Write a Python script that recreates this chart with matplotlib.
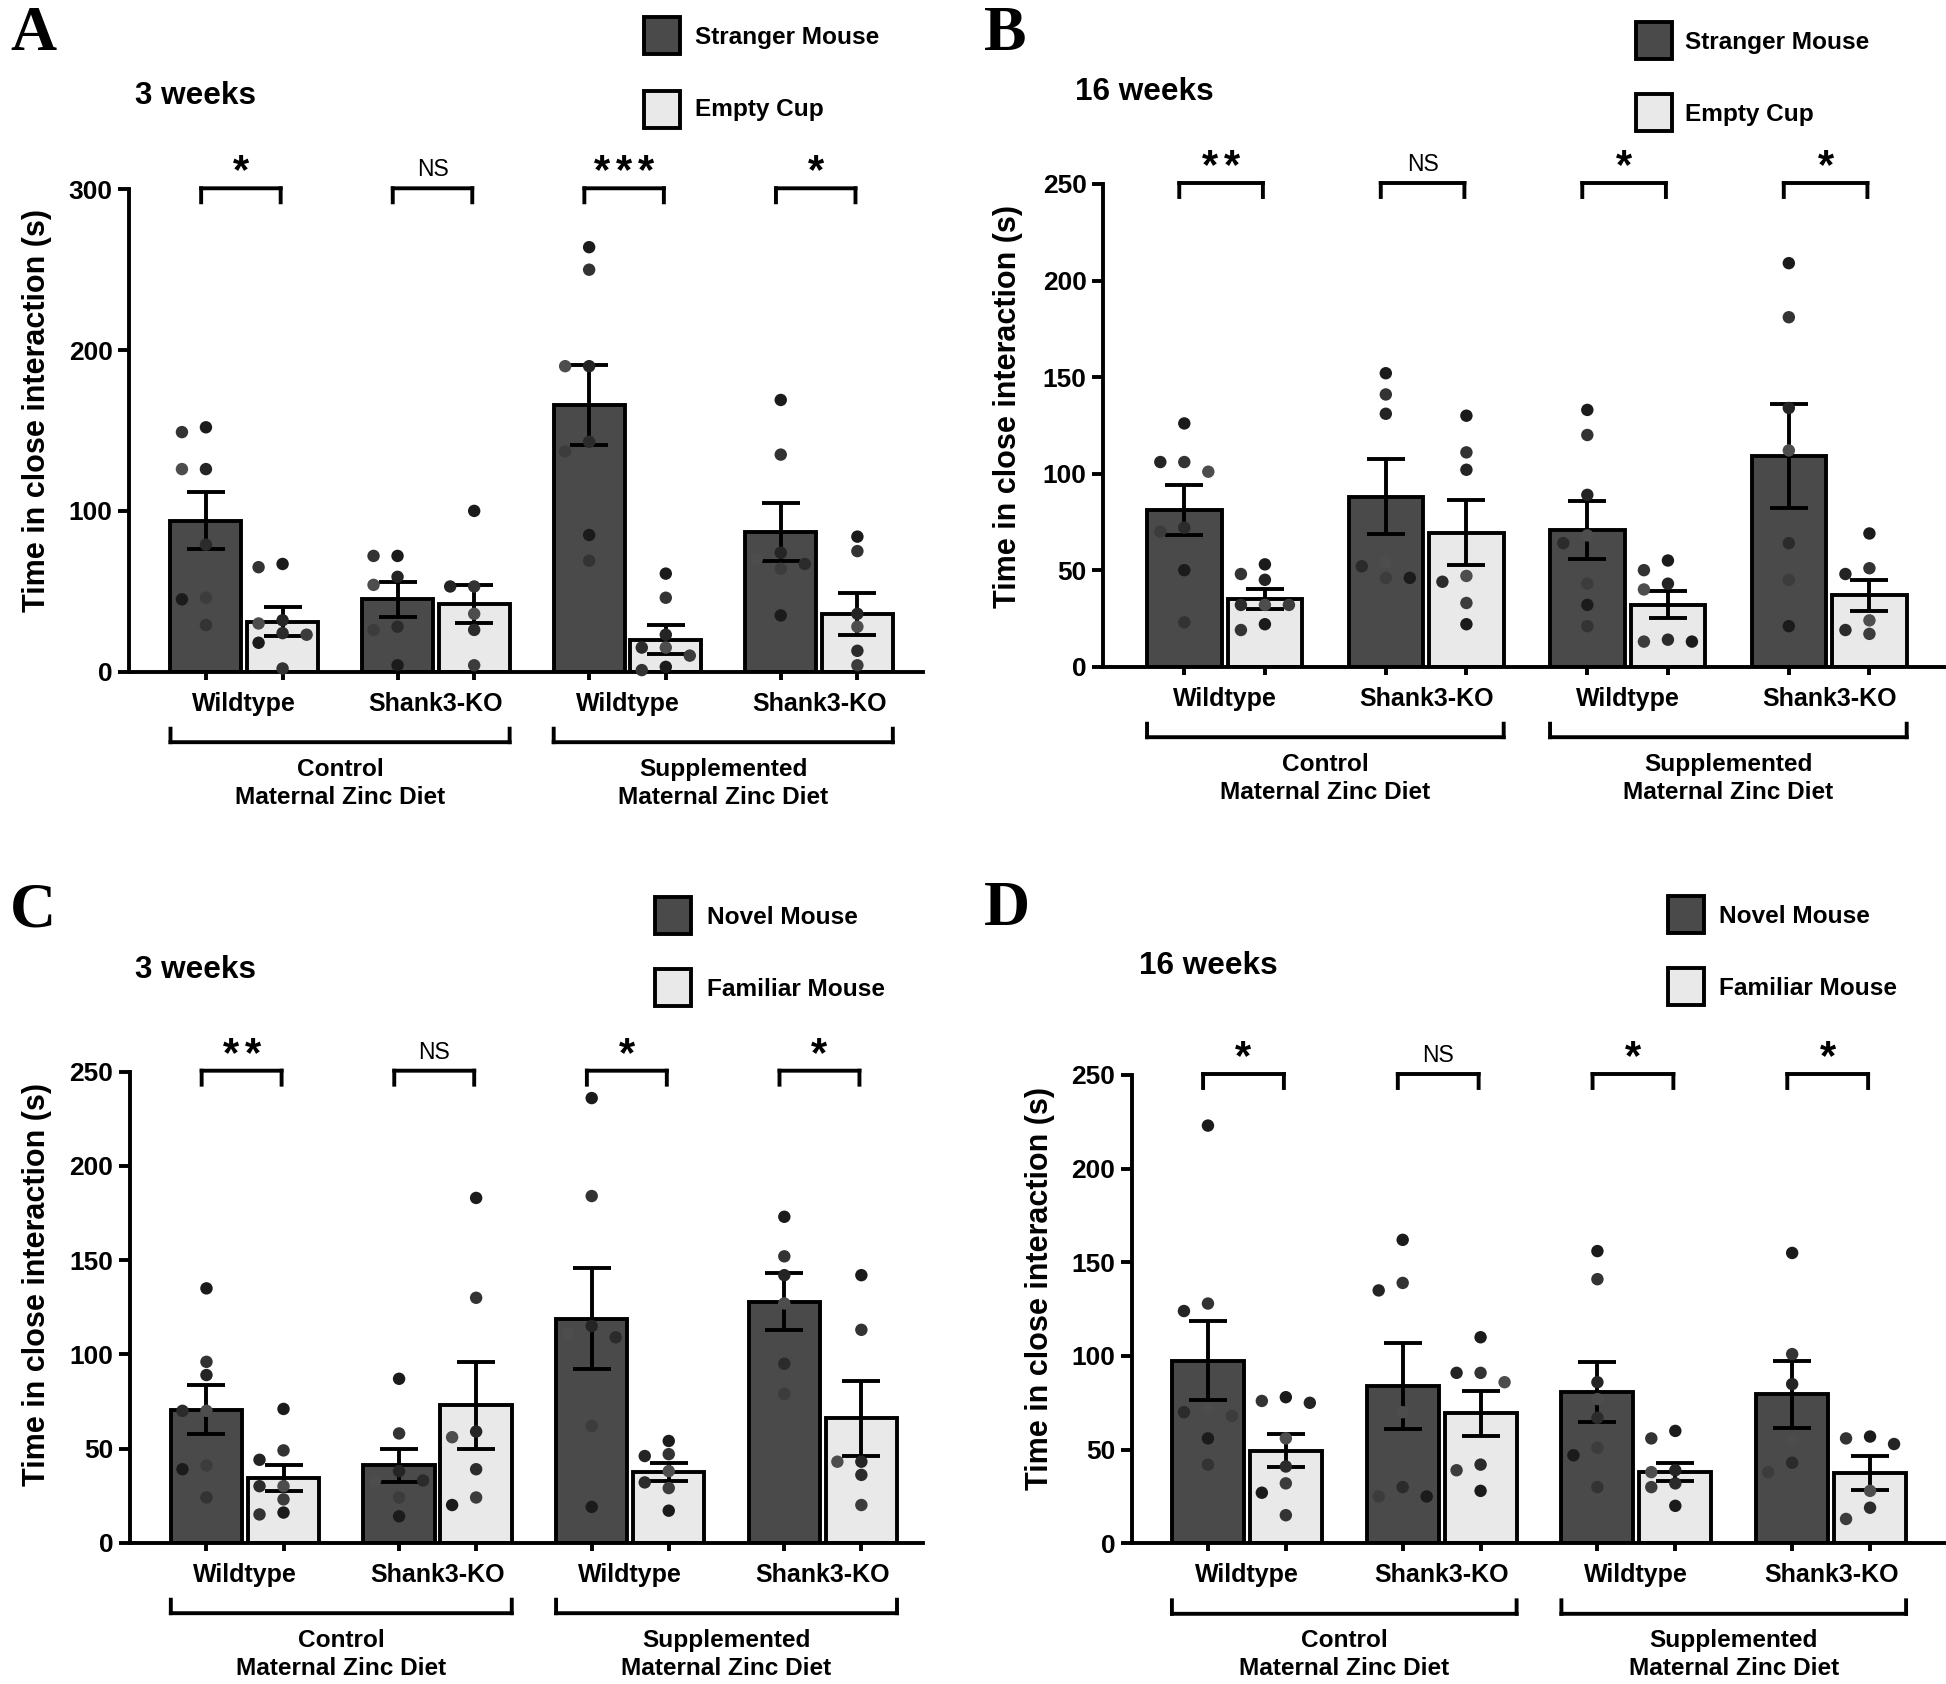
import matplotlib
matplotlib.use("Agg")
import matplotlib.pyplot as plt
from matplotlib.patches import Rectangle
from matplotlib.transforms import blended_transform_factory, offset_copy

plt.rcParams['font.family'] = ['Liberation Sans', 'DejaVu Sans']
plt.rcParams['font.weight'] = 'bold'

# ---------------- data ----------------
genotypes = ["Wildtype", "Shank3-KO", "Wildtype", "Shank3-KO"]
diet_top = ["Control", "Supplemented"]
diet_bottom = ["Maternal Zinc Diet", "Maternal Zinc Diet"]

# Panel A: 3 weeks, Stranger Mouse vs Empty Cup
A_dark_mean = [94, 45, 166, 87]
A_dark_sem = [18, 11, 25, 18]
A_light_mean = [31, 42, 20, 36]
A_light_sem = [9, 12, 9, 13]
A_dark_pts = [[152, 149, 126, 126, 79, 46, 45, 29],
              [72, 72, 59, 54, 28, 26, 4],
              [264, 250, 190, 190, 143, 137, 85, 69],
              [169, 135, 74, 70, 67, 64, 35]]
A_light_pts = [[67, 65, 32, 30, 24, 23, 18, 2],
               [100, 53, 53, 36, 26, 4],
               [61, 46, 23, 15, 15, 10, 3, 1],
               [84, 75, 36, 28, 13, 4]]
A_sig = ["*", "NS", "***", "*"]

# Panel B: 16 weeks, Stranger Mouse vs Empty Cup
B_dark_mean = [81, 88, 71, 109]
B_dark_sem = [13, 19.5, 15, 27]
B_light_mean = [35, 69.5, 32, 37]
B_light_sem = [5, 17, 7, 8]
B_dark_pts = [[126, 106, 106, 101, 72, 70, 50, 23],
              [152, 141, 131, 54, 52, 46, 46],
              [133, 120, 89, 68, 64, 43, 32, 21],
              [209, 181, 134, 112, 64, 45, 21]]
B_light_pts = [[53, 48, 45, 32, 32, 32, 22, 19],
               [130, 111, 102, 47, 44, 33, 22],
               [55, 50, 43, 40, 14, 13, 13],
               [69, 51, 48, 24, 19, 17]]
B_sig = ["**", "NS", "*", "*"]

# Panel C: 3 weeks, Novel Mouse vs Familiar Mouse
C_dark_mean = [70.5, 41, 119, 128]
C_dark_sem = [13, 9, 27, 15]
C_light_mean = [34.5, 73, 37.5, 66]
C_light_sem = [7, 23, 5, 20]
C_dark_pts = [[135, 96, 89, 70, 70, 41, 39, 24],
              [87, 58, 38, 33, 33, 24, 14],
              [236, 184, 115, 111, 109, 62, 19],
              [173, 152, 142, 127, 95, 79]]
C_light_pts = [[71, 49, 44, 30, 30, 23, 16, 15],
               [183, 130, 59, 56, 39, 24, 20],
               [54, 47, 46, 38, 32, 29, 17],
               [142, 113, 43, 43, 36, 20]]
C_sig = ["**", "NS", "*", "*"]

# Panel D: 16 weeks, Novel Mouse vs Familiar Mouse
D_dark_mean = [97.5, 84, 81, 79.5]
D_dark_sem = [21, 23, 16, 18]
D_light_mean = [49.5, 69.5, 38, 37.5]
D_light_sem = [9, 12, 5, 9]
D_dark_pts = [[223, 128, 124, 72, 70, 68, 56, 42],
              [162, 139, 135, 70, 30, 25, 25],
              [156, 141, 86, 77, 67, 51, 47, 30],
              [155, 101, 85, 55, 43, 38]]
D_light_pts = [[78, 76, 75, 56, 41, 32, 27, 15],
               [110, 91, 91, 86, 42, 39, 28],
               [60, 56, 39, 38, 32, 30, 20],
               [57, 56, 53, 28, 19, 13]]
D_sig = ["*", "NS", "*", "*"]

# ---------------- style ----------------
W, H = 1946, 1684
DARK = '#4a4a4a'
LIGHT = '#e9e9e9'
DOT_COLORS = ['#1b1b1b', '#333333', '#242424', '#4d4d4d', '#2b2b2b', '#3c3c3c']
LW = 2.8

fig = plt.figure(figsize=(W / 100, H / 100), dpi=100)


def fx(px):
    return px / W


def fy(py):
    return 1 - py / H


def swarm(vals, center, ppx, ppy, diam=12, step=24):
    placed, xs = [], []
    for v in vals:
        ypx = v * ppy
        chosen = 0
        for k in [0, -1, 1, -2, 2, -3, 3]:
            xpx = k * step
            if all((xpx - a) ** 2 + (ypx - b) ** 2 >= diam ** 2 for a, b in placed):
                chosen = xpx
                break
        placed.append((chosen, ypx))
        xs.append(center + chosen / ppx)
    return xs


def panel(box, xlim, ymax, yticks, dm, ds, lm, ls, dp, lp, sig):
    l, t, r, b = box
    ax = fig.add_axes([fx(l), fy(b), fx(r) - fx(l), (b - t) / H])
    ax.set_xlim(*xlim)
    ax.set_ylim(0, ymax)
    ppx = (r - l) / (xlim[1] - xlim[0])
    ppy = (b - t) / ymax
    off, bw = 0.2, 0.37
    groups = list(range(len(genotypes)))
    xd = [g - off for g in groups]
    xl = [g + off for g in groups]
    ax.bar(xd, dm, width=bw, color=DARK, edgecolor='black', linewidth=LW, zorder=2)
    ax.bar(xl, lm, width=bw, color=LIGHT, edgecolor='black', linewidth=LW, zorder=2)
    ax.errorbar(xd, dm, yerr=ds, fmt='none', ecolor='black', elinewidth=LW,
                capsize=14, capthick=LW, zorder=3)
    ax.errorbar(xl, lm, yerr=ls, fmt='none', ecolor='black', elinewidth=LW,
                capsize=14, capthick=LW, zorder=3)
    for xs_c, pts in ((xd, dp), (xl, lp)):
        for xc, vals in zip(xs_c, pts):
            xs = swarm(vals, xc, ppx, ppy)
            cols = [DOT_COLORS[i % len(DOT_COLORS)] for i in range(len(vals))]
            ax.scatter(xs, vals, s=80, c=cols, edgecolors='none', zorder=4, clip_on=False)

    for s in ['top', 'right']:
        ax.spines[s].set_visible(False)
    for s in ['left', 'bottom']:
        ax.spines[s].set_linewidth(LW)
    ax.set_yticks(yticks)
    ax.set_yticklabels([str(v) for v in yticks], fontsize=19, fontweight='bold')
    ax.tick_params(axis='y', length=8, width=LW, pad=4)
    ax.set_xticks(sorted(xd + xl))
    ax.tick_params(axis='x', length=6, width=LW, labelbottom=False)

    base = blended_transform_factory(ax.transData, ax.transAxes)

    def tr(dy, dx=0):
        return offset_copy(base, fig=fig, x=dx, y=dy, units='dots')

    def seg(x0, y0, x1, y1, dy0, dy1):
        ax.annotate('', xy=(x1, y1), xycoords=tr(dy1), xytext=(x0, y0), textcoords=tr(dy0),
                    arrowprops=dict(arrowstyle='-', lw=LW, color='black',
                                    shrinkA=0, shrinkB=0, capstyle='projecting'),
                    annotation_clip=False)

    # genotype labels
    for g, name in zip(groups, genotypes):
        ax.text(g, 0, name, transform=tr(-39), ha='center', va='baseline',
                fontsize=18, fontweight='bold')
    # diet brackets
    for i, (top, bot) in enumerate(zip(diet_top, diet_bottom)):
        x0 = groups[2 * i] - off - bw / 2
        x1 = groups[2 * i + 1] + off + bw / 2
        seg(x0, 0, x1, 0, -70.5, -70.5)
        seg(x0, 0, x0, 0, -57, -70.5)
        seg(x1, 0, x1, 0, -57, -70.5)
        xm = (x0 + x1) / 2
        ax.text(xm, 0, top, transform=tr(-104), ha='center', va='baseline',
                fontsize=17.6, fontweight='bold')
        ax.text(xm, 0, bot, transform=tr(-132), ha='center', va='baseline',
                fontsize=17.6, fontweight='bold')
    # significance brackets
    for g, s in zip(groups, sig):
        x0, x1 = g - 0.225, g + 0.19
        seg(x0, 1, x1, 1, 1, 1)
        seg(x0, 1, x0, 1, 1, -13)
        seg(x1, 1, x1, 1, 1, -13)
        xm = (x0 + x1) / 2
        if s == 'NS':
            ax.text(xm, 1, s, transform=tr(13), ha='center', va='baseline',
                    fontsize=16.5, fontweight='normal')
        else:
            n = len(s)
            for k in range(n):
                dx = (k - (n - 1) / 2) * 22
                ax.text(xm, 1, '*', transform=tr(6, dx), ha='center', va='baseline',
                        fontsize=30, fontweight='bold')
    return ax


def legend(x_box, y_dark, y_light, x_text, base_dark, base_light, lab_dark, lab_light, bw=36, bh=37):
    for y, col in ((y_dark, DARK), (y_light, LIGHT)):
        fig.add_artist(Rectangle((fx(x_box), fy(y + bh)), bw / W, bh / H, transform=fig.transFigure,
                                 facecolor=col, edgecolor='black', linewidth=LW))
    fig.text(fx(x_text), fy(base_dark), lab_dark, fontsize=17.6, fontweight='bold', va='baseline')
    fig.text(fx(x_text), fy(base_light), lab_light, fontsize=17.6, fontweight='bold', va='baseline')


ticks250 = [0, 50, 100, 150, 200, 250]

panel((129.3, 189.3, 923.3, 671.7), (-0.60, 3.544), 300, [0, 100, 200, 300],
      A_dark_mean, A_dark_sem, A_light_mean, A_light_sem, A_dark_pts, A_light_pts, A_sig)
panel((1103.3, 184, 1946, 666.7), (-0.602, 3.58), 250, ticks250,
      B_dark_mean, B_dark_sem, B_light_mean, B_light_sem, B_dark_pts, B_light_pts, B_sig)
panel((130, 1071.7, 923, 1542.7), (-0.597, 3.52), 250, ticks250,
      C_dark_mean, C_dark_sem, C_light_mean, C_light_sem, C_dark_pts, C_light_pts, C_sig)
panel((1132, 1075, 1946, 1543.3), (-0.59, 3.59), 250, ticks250,
      D_dark_mean, D_dark_sem, D_light_mean, D_light_sem, D_dark_pts, D_light_pts, D_sig)

ylab = "Time in close interaction (s)"
for x, y in ((37, 411), (1008, 406), (37, 1284), (1040, 1288)):
    fig.text(fx(x), fy(y), ylab, rotation=90, ha='center', va='center', fontsize=22,
             fontweight='bold')

# panel letters
for x, y, L in ((10, 50, 'A'), (984, 50, 'B'), (10, 926, 'C'), (984, 925, 'D')):
    fig.text(fx(x), fy(y), L, fontsize=46, fontweight='bold', va='baseline',
             family=['Liberation Serif', 'DejaVu Serif'])

# titles
for x, y, t in ((135, 104, '3 weeks'), (1075, 100, '16 weeks'), (135, 978, '3 weeks'),
                (1139, 974, '16 weeks')):
    fig.text(fx(x), fy(y), t, fontsize=22.7, fontweight='bold', va='baseline')

legend(644, 17, 91, 695, 44, 116, 'Stranger Mouse', 'Empty Cup')
legend(1636, 22, 94, 1685, 49, 121, 'Stranger Mouse', 'Empty Cup')
legend(655, 897, 969, 707, 924, 996, 'Novel Mouse', 'Familiar Mouse')
legend(1668, 896, 968, 1719, 923, 995, 'Novel Mouse', 'Familiar Mouse')

fig.savefig('out.png', dpi=100)
